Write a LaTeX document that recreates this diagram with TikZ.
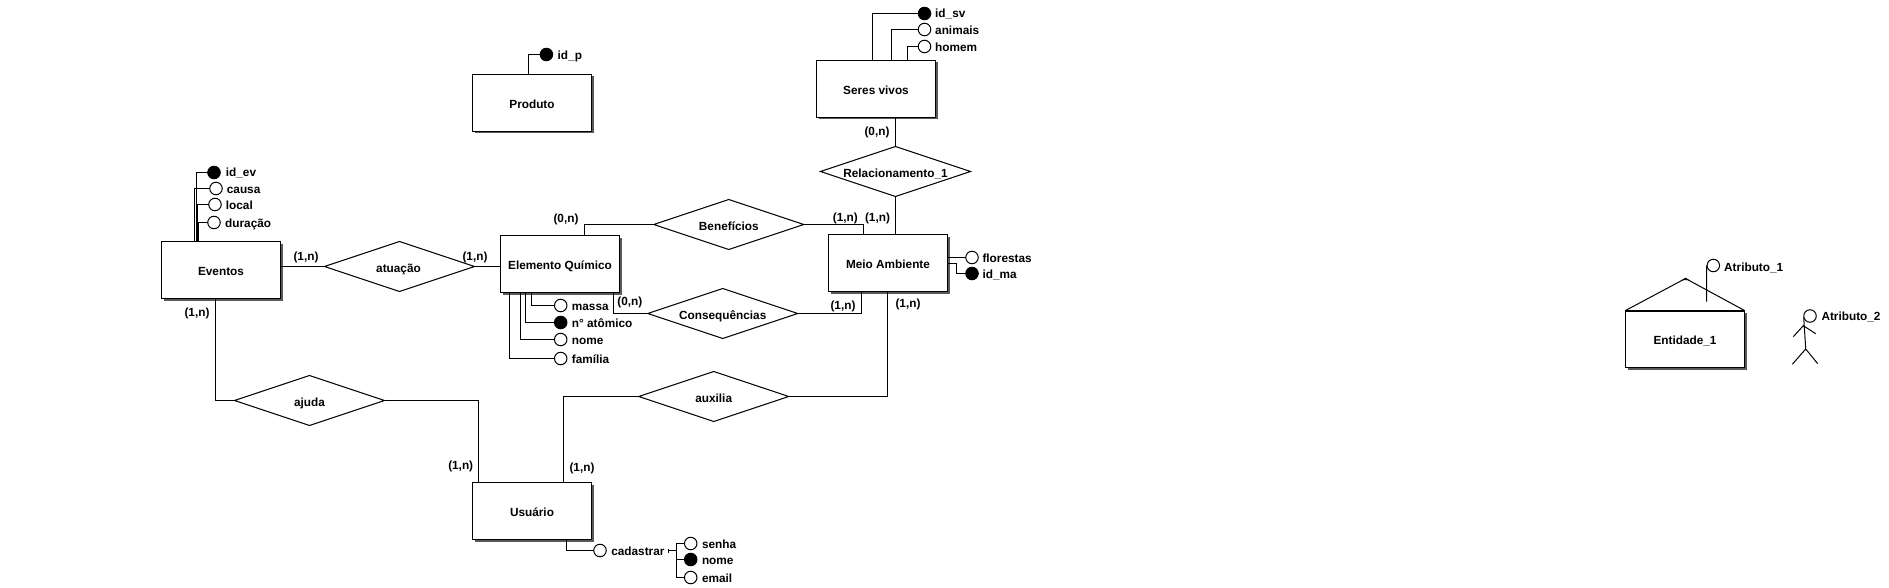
\documentclass[tikz,border=0pt]{standalone}
\usepackage{fontspec}
\setmainfont{Liberation Sans}
\usetikzlibrary{shapes.geometric,shadows}
\tikzset{
  txt/.style={font=\fontsize{11.8}{14}\selectfont\bfseries,inner sep=0pt,text=black},
  ent/.style={draw=black,fill=white,line width=1pt,minimum width=119pt,minimum height=57pt,inner sep=0pt,outer sep=0pt,
    txt,text height=10.6pt,text depth=0pt,
    drop shadow={shadow xshift=2pt,shadow yshift=-2pt,fill=black!65,opacity=1}},
  rel/.style={diamond,draw=black,fill=white,line width=1pt,aspect=3,minimum width=150pt,minimum height=50pt,inner sep=0pt,outer sep=0pt},
  rtxt/.style={txt,text height=11.6pt,text depth=0pt},
  attr/.style={circle,draw=black,fill=white,line width=1pt,minimum size=12.5pt,inner sep=0pt,outer sep=0pt},
  key/.style={attr,fill=black},
  atxt/.style={txt,anchor=base west},
  card/.style={txt,anchor=center},
  conn/.style={draw=black,line width=1pt},
}
\begin{document}
\begin{tikzpicture}[x=1pt,y=-1pt]
\useasboundingbox (0,0) rectangle (1889,588);
% connector anchor points
\coordinate (evA) at (196.5,241.5);
\coordinate (evB) at (194.5,241.5);
\coordinate (evC) at (197.5,241.5);
\coordinate (evD) at (198.5,241.5);
\coordinate (evS) at (215.5,298.5);
\coordinate (elA) at (531.5,292.5);
\coordinate (elB) at (525.5,292.5);
\coordinate (elC) at (520.5,292.5);
\coordinate (elD) at (509.5,292.5);
\coordinate (elT) at (584.5,235.5);
\coordinate (elR) at (613.5,292.5);
\coordinate (pA) at (528.5,74.5);
\coordinate (svA) at (872.5,60.5);
\coordinate (svB) at (891.5,60.5);
\coordinate (svC) at (907.5,60.5);
\coordinate (maT) at (863.5,234.5);
\coordinate (maB) at (861.5,291.5);
\coordinate (maC) at (887.5,291.5);
\coordinate (maF) at (947.5,257.5);
\coordinate (maG) at (947.5,263.5);
\coordinate (maH) at (956.5,263.5);
\coordinate (usL) at (478.5,482.5);
\coordinate (usR) at (563.5,482.5);
\coordinate (usB) at (566.5,539.5);
\coordinate (trkT) at (676.5,550.5);
\coordinate (tick) at (668.5,550.5);
\coordinate (apex) at (1685.5,278.5);
\coordinate (attrB) at (1706.5,301.5);
% entities
\node[ent] (ev) at (221,270) {Eventos};
\node[ent] (el) at (560,264) {Elemento Químico};
\node[ent] (prod) at (532,103) {Produto};
\node[ent] (sv) at (876,89) {Seres vivos};
\node[ent] (ma) at (888,263) {Meio Ambiente};
\node[ent] (us) at (532,511) {Usuário};
\node[ent] (e1) at (1685,339) {Entidade\_1};
% relationships
\node[rel,label={[rtxt,xshift=-1pt]center:atuação}] (at) at (399.5,266.5) {};
\node[rel,label={[rtxt]center:ajuda}] (aj) at (309.5,400.5) {};
\node[rel,label={[rtxt]center:Benefícios}] (be) at (728.8,224.5) {};
\node[rel,label={[rtxt]center:Consequências}] (co) at (722.7,313.5) {};
\node[rel,label={[rtxt]center:auxilia}] (au) at (713.7,396.5) {};
\node[rel,label={[rtxt]center:Relacionamento\_1}] (re) at (895.5,171.5) {};
% attributes
\node[key]  (idev) at (214,172.5) {};
\node[attr] (cau)  at (216,188.5) {};
\node[attr] (loc)  at (215,204.5) {};
\node[attr] (dur)  at (214,222.5) {};
\node[attr] (mas)  at (560.7,305.5) {};
\node[key]  (nat)  at (560.7,322.5) {};
\node[attr] (nom)  at (560.7,339.5) {};
\node[attr] (fam)  at (560.7,358.5) {};
\node[key]  (idp)  at (546.4,54.5) {};
\node[key]  (idsv) at (924.5,13.5) {};
\node[attr] (ani)  at (924.5,29.5) {};
\node[attr] (hom)  at (924.5,46.5) {};
\node[attr] (flo)  at (972,257.5) {};
\node[key]  (idma) at (972,273.5) {};
\node[attr] (cad)  at (600,550.5) {};
\node[attr] (sen)  at (690.7,543.5) {};
\node[key]  (nm2)  at (690.7,559.5) {};
\node[attr] (ema)  at (690.7,577.5) {};
\node[attr] (at1)  at (1713.3,265.5) {};
\node[attr] (at2)  at (1810,316) {};
% attribute texts
\node[atxt] (tidev) at (225.7,177) {id\_ev};
\node[atxt] (tcau) at (226.7,193.3) {causa};
\node[atxt] (tloc) at (225.7,209.3) {local};
\node[atxt] (tdur) at (225,227) {duração};
\node[atxt] (tmas) at (571.7,310.3) {massa};
\node[atxt] (tnat) at (571.7,327) {n° atômico};
\node[atxt] (tnom) at (571.7,344.3) {nome};
\node[atxt] (tfam) at (571.7,363.3) {família};
\node[atxt] (tidp) at (557.5,60) {id\_p};
\node[atxt] (tidsv) at (935,18) {id\_sv};
\node[atxt] (tani) at (935,34.3) {animais};
\node[atxt] (thom) at (935,51.3) {homem};
\node[atxt] (tflo) at (982.3,262.3) {florestas};
\node[atxt] (tidma) at (982.3,278.3) {id\_ma};
\node[atxt] (tcad) at (611.1,555.3) {cadastrar};
\node[atxt] (tsen) at (701.8,548.3) {senha};
\node[atxt] (tnm2) at (701.8,564.3) {nome};
\node[atxt] (tema) at (701.8,582.3) {email};
\node[atxt] (tat1) at (1724,271.3) {Atributo\_1};
\node[atxt] (tat2) at (1821.3,320) {Atributo\_2};
% cardinalities
\node[card] (c1) at (306,257) {(1,n)};
\node[card] (c2) at (475,257) {(1,n)};
\node[card] (c3) at (197,313.3) {(1,n)};
\node[card] (c4) at (566,219) {(0,n)};
\node[card] (c5) at (845.3,218) {(1,n)};
\node[card] (c6) at (877.5,218) {(1,n)};
\node[card] (c7) at (877,132) {(0,n)};
\node[card] (c8) at (629.9,302) {(0,n)};
\node[card] (c9) at (843,306) {(1,n)};
\node[card] (c10) at (908,304) {(1,n)};
\node[card] (c11) at (460.7,466.5) {(1,n)};
\node[card] (c12) at (582,468.5) {(1,n)};
% connectors
\draw[conn] (idev.west) -| (evA);
\draw[conn] (cau.west) -| (evB);
\draw[conn] (loc.west) -| (evC);
\draw[conn] (dur.west) -| (evD);
\draw[conn] (at.west) -- (at.west -| ev.east);
\draw[conn] (at.east) -- (at.east -| el.west);
\draw[conn] (evS) |- (aj.west);
\draw[conn] (aj.east) -| (usL);
\draw[conn] (mas.west) -| (elA);
\draw[conn] (nat.west) -| (elB);
\draw[conn] (nom.west) -| (elC);
\draw[conn] (fam.west) -| (elD);
\draw[conn] (be.west) -| (elT);
\draw[conn] (be.east) -| (maT);
\draw[conn] (co.west) -| (elR);
\draw[conn] (co.east) -| (maB);
\draw[conn] (au.east) -| (maC);
\draw[conn] (au.west) -| (usR);
\draw[conn] (idp.west) -| (pA);
\draw[conn] (idsv.west) -| (svA);
\draw[conn] (ani.west) -| (svB);
\draw[conn] (hom.west) -| (svC);
\draw[conn] (re.north) -- (re.north |- sv.south);
\draw[conn] (re.south) -- (re.south |- ma.north);
\draw[conn] (maF) -- (flo.west);
\draw[conn] (maG) -- (maH) |- (idma.west);
\draw[conn] (usB) |- (cad.west);
\draw[conn] (tick) -- (trkT);
\draw[line width=.8pt] ([yshift=-2pt]tick) -- ([yshift=2pt]tick);
\draw[conn] (sen.west) -| (trkT |- ema.west) -- (ema.west);
\draw[conn] (nm2.west) -- (nm2.west -| trkT);
% roof of the specialised entity and its attribute
\draw[conn] (e1.north west) -- (apex) -- (e1.north east);
\draw[line width=2pt] (e1.north west) -- (e1.north east);
\fill (apex) ++(-4,1.7) -- ++(4,-2.4) -- ++(4,2.4) -- cycle;
\draw[conn] (attrB) -- (1706.5,272) .. controls (1706.5,267) and (1706.8,265.5) .. (at1.west);
% stick figure
\draw[line width=1pt]
  (1803.7,317.3) -- (1805.7,349)
  (1793.3,336.7) -- (1803.3,325.7) -- (1815.7,333.7)
  (1792.3,364.3) -- (1805.7,349) -- (1817.7,363.7);
\end{tikzpicture}
\end{document}
